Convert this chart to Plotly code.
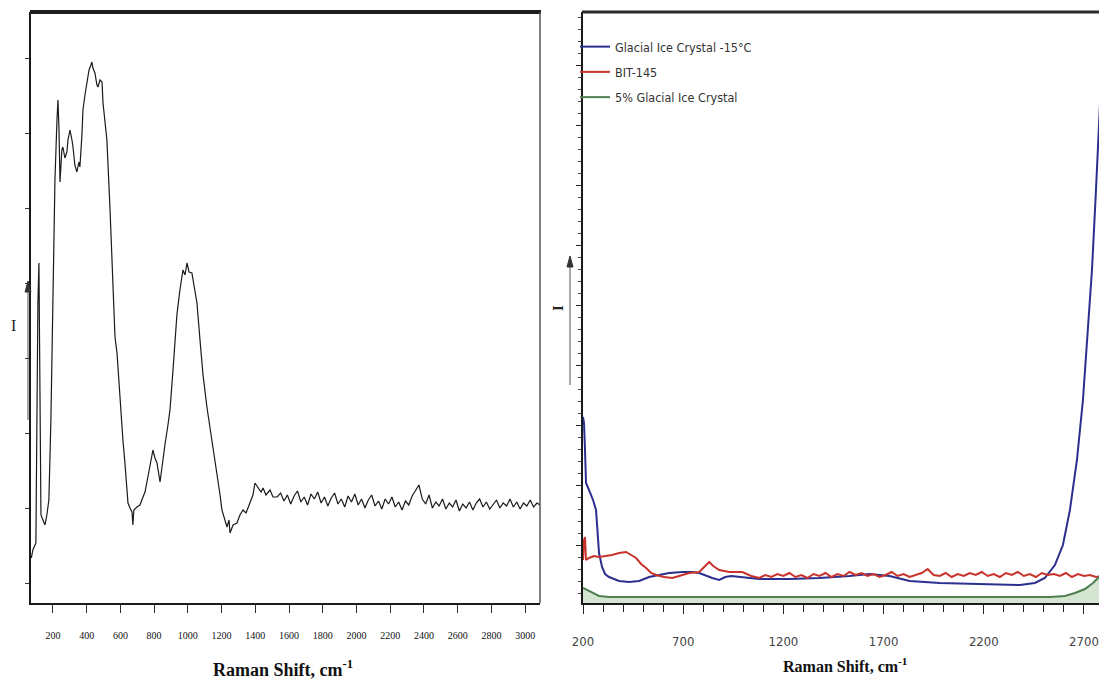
import plotly.graph_objects as go

# page body has an 8px margin, so the figure is sized to sit inside the 1107x698 window
W, H = 1099, 682
OFF = 8

# ---------------- Left panel: Raman spectrum (arbitrary intensity) ----------------
left_x = [72, 81, 99, 105, 111, 117, 123, 129, 141, 153, 164, 176, 188, 200, 212, 224, 230, 236, 242,
          253, 259, 271, 283, 289, 301, 313, 319, 330, 342, 354, 360, 372, 378, 390, 402, 414, 425,
          431, 437, 449, 461, 467, 479, 491, 497, 508, 520, 538, 556, 568, 580, 597, 615, 627, 645,
          657, 669, 674, 680, 698, 716, 734, 746, 763, 775, 793, 805, 817, 835, 847, 864, 882, 894,
          912, 935, 953, 971, 983, 995, 1007, 1024, 1036, 1054, 1072, 1090, 1113, 1143, 1173, 1191,
          1202, 1220, 1232, 1244, 1250, 1268, 1291, 1309, 1327, 1345, 1368, 1386, 1398, 1416, 1434,
          1446, 1463, 1487, 1505, 1529,
          1550, 1570, 1590, 1610, 1630, 1650, 1670, 1690, 1710, 1730, 1750, 1770, 1790, 1810, 1830,
          1850, 1870, 1890, 1910, 1930, 1950, 1970, 1990, 2010, 2030, 2050, 2070, 2090, 2110, 2130,
          2150, 2170, 2190, 2210, 2230, 2250, 2270, 2290, 2310, 2330, 2350, 2370, 2390, 2410, 2430,
          2450, 2470, 2490, 2510, 2530, 2550, 2570, 2590, 2610, 2630, 2650, 2670, 2690, 2710, 2730,
          2750, 2770, 2790, 2810, 2830, 2850, 2870, 2890, 2910, 2930, 2950, 2970, 2990, 3010, 3030,
          3050, 3070, 3088]
left_i = [45, 53, 60, 203, 300, 340, 183, 88, 83, 78, 88, 103, 183, 303, 423, 483, 503, 473, 421,
          453, 456, 445, 451, 463, 473, 463, 456, 438, 431, 441, 436, 468, 493, 508, 520, 533, 538,
          541, 535, 530, 518, 516, 523, 521, 500, 483, 463, 396, 313, 266, 250, 206, 163, 140, 100,
          95, 91, 78, 93, 96, 98, 106, 111, 126, 138, 153, 145, 140, 121, 138, 158, 178, 193,
          233, 288, 313, 333, 328, 340, 331, 330, 318, 300, 263, 228, 196, 163, 130, 108,
          93, 83, 76, 83, 70, 78, 80, 88, 93, 90, 100, 108, 120, 115, 111,
          115, 108, 113, 106, 106,
          110, 102, 108, 99, 107, 112, 101, 106, 98, 109, 104, 111, 100, 106, 97,
          105, 110, 99, 104, 96, 107, 101, 109, 98, 104, 95, 103, 108, 97, 102,
          94, 104, 99, 106, 96, 101, 93, 102, 98, 107, 112, 118, 104, 99, 108,
          95, 101, 97, 104, 94, 100, 96, 103, 92, 99, 95, 101, 93, 100, 104,
          96, 101, 94, 99, 103, 95, 100, 97, 104, 96, 101, 94, 100, 97, 103,
          96, 100, 98]

left_xticks = [200, 400, 600, 800, 1000, 1200, 1400, 1600, 1800, 2000, 2200, 2400, 2600, 2800, 3000]

# ---------------- Right panel: three spectra ----------------
blue_name = "Glacial Ice Crystal -15\u00b0C"
blue_x = [200, 205, 210, 215, 230, 250, 265, 275, 280, 295, 310, 330, 380, 430, 480, 530, 580, 630,
          695, 745, 780, 815, 845, 880, 910, 940, 980, 1080, 1230, 1380, 1530, 1630, 1730, 1830,
          1980, 2130, 2280, 2380, 2455, 2505, 2555, 2595, 2630, 2665, 2695, 2720, 2740, 2760, 2780,
          2795, 2805]
blue_i = [186, 180, 153, 120, 113, 103, 93, 68, 50, 36, 29, 26, 22, 21, 22, 26, 28, 30,
          31, 31, 30, 27, 25, 23, 26, 27, 26, 24, 24, 25, 27, 29, 27, 22,
          20, 19, 18, 18, 20, 25, 38, 58, 93, 143, 203, 273, 333, 413, 503,
          563, 585]

red_name = "BIT-145"
red_x = [200, 205, 210, 215, 230, 255, 280, 315, 345, 380, 415, 440, 465, 490, 515, 540, 565, 605,
         645, 680, 730, 780, 805, 830, 850, 880, 930, 995, 1040, 1080,
         1110, 1140, 1170, 1200, 1230, 1260, 1290, 1320, 1350, 1380, 1410, 1440, 1470, 1500, 1530,
         1560, 1590, 1620, 1650, 1680, 1710, 1740, 1770, 1800, 1830, 1860, 1890, 1920, 1950, 1980,
         2010, 2040, 2070, 2100, 2130, 2160, 2190, 2220, 2250, 2280, 2310, 2340, 2370, 2400, 2430,
         2460, 2490, 2520, 2550, 2580, 2610, 2640, 2670, 2700, 2730, 2760, 2790]
red_i = [43, 63, 66, 43, 45, 47, 46, 47, 48, 50, 51, 48, 45, 39, 35, 30, 28, 26,
         25, 27, 30, 31, 36, 41, 37, 33, 31, 31, 27, 25,
         28, 26, 29, 27, 30, 26, 28, 25, 29, 27, 30, 26, 29, 27, 31,
         28, 30, 27, 29, 26, 28, 31, 27, 29, 26, 28, 30, 34, 28, 27,
         30, 26, 29, 27, 30, 28, 31, 27, 29, 26, 30, 28, 31, 27, 29,
         26, 30, 28, 29, 27, 30, 26, 29, 27, 28, 26, 27]

green_name = "5% Glacial Ice Crystal"
green_x = [200, 220, 245, 280, 330, 780, 1780, 2530, 2605, 2655, 2705, 2745, 2780, 2815]
green_i = [15, 13, 10, 7, 6, 6, 6, 6, 7, 10, 14, 20, 27, 37]

right_xticks = [200, 700, 1200, 1700, 2200, 2700]

# ---------------- helpers: window pixel position -> paper coordinates ----------------
def px(x):
    return (x - OFF) / W

def py(y):
    return 1 - (y - OFF) / H

fig = go.Figure()

fig.add_trace(go.Scatter(x=left_x, y=left_i, mode="lines", line=dict(color="#1a1a1a", width=1.2),
                         showlegend=False, xaxis="x", yaxis="y"))

# green fill underneath (no legend entry)
fig.add_trace(go.Scatter(x=green_x, y=green_i, mode="lines", fill="tozeroy",
                         fillcolor="rgba(160,200,155,0.45)", line=dict(width=0, color="rgba(0,0,0,0)"),
                         showlegend=False, hoverinfo="skip", xaxis="x2", yaxis="y2"))
fig.add_trace(go.Scatter(x=blue_x, y=blue_i, mode="lines", name=blue_name, legendgroup="a",
                         line=dict(color="#2b2f8f", width=2), xaxis="x2", yaxis="y2"))
fig.add_trace(go.Scatter(x=red_x, y=red_i, mode="lines", name=red_name, legendgroup="b",
                         line=dict(color="#c8342b", width=2), xaxis="x2", yaxis="y2"))
fig.add_trace(go.Scatter(x=green_x, y=green_i, mode="lines", name=green_name, legendgroup="c",
                         line=dict(color="#4f7f50", width=2), xaxis="x2", yaxis="y2"))

ydom = [py(603), py(12)]
legend_font = "DejaVu Sans Condensed, Liberation Sans Narrow, DejaVu Sans"

fig.update_layout(
    width=W, height=H,
    margin=dict(l=0, r=0, t=0, b=0, autoexpand=False),
    paper_bgcolor="white", plot_bgcolor="white",
    xaxis=dict(domain=[px(31), px(540)], range=[70, 3088], anchor="y", automargin=False,
               showline=True, linecolor="#1a1a1a", linewidth=2,
               ticks="outside", ticklen=8, tickwidth=1, tickcolor="#333",
               tickvals=left_xticks, ticktext=[str(v) for v in left_xticks],
               tickfont=dict(family="Liberation Serif", size=10, color="#111"),
               ticklabelstandoff=14, showgrid=False, zeroline=False),
    yaxis=dict(domain=ydom, range=[0, 591], anchor="x", automargin=False,
               showline=True, linecolor="#1a1a1a", linewidth=2,
               ticks="outside", ticklen=4, tickcolor="#333", tick0=20, dtick=75,
               showticklabels=False, showgrid=False, zeroline=False),
    xaxis2=dict(domain=[px(583), 1.0], range=[200, 2815], anchor="y2", automargin=False,
                showline=True, linecolor="#1a1a1a", linewidth=2,
                ticks="outside", ticklen=9, tickwidth=1.3, tickcolor="#222",
                tickvals=right_xticks, ticktext=[str(v) for v in right_xticks],
                minor=dict(dtick=100, tick0=200, ticks="outside", ticklen=7, tickcolor="#222", tickwidth=1),
                tickfont=dict(family=legend_font, size=13, color="#444"),
                ticklabelstandoff=16, showgrid=False, zeroline=False),
    yaxis2=dict(domain=ydom, range=[0, 591], anchor="x2", automargin=False,
                showline=True, linecolor="#1a1a1a", linewidth=1.5,
                ticks="outside", ticklen=5, tickcolor="#222", tick0=58, dtick=60,
                minor=dict(dtick=12, tick0=58, ticks="outside", ticklen=3, tickcolor="#444"),
                showticklabels=False, showgrid=False, zeroline=False),
    legend=dict(x=px(575), y=py(32), xanchor="left", yanchor="top",
                bgcolor="rgba(0,0,0,0)", itemwidth=30, tracegroupgap=6,
                font=dict(family=legend_font, size=12.5, color="#333")),
    shapes=[
        dict(type="line", xref="paper", yref="paper", x0=px(30), x1=px(541), y0=py(12), y1=py(12),
             line=dict(color="#1f1f1f", width=4)),
        dict(type="line", xref="paper", yref="paper", x0=px(540), x1=px(540), y0=py(12), y1=py(603),
             line=dict(color="#555", width=1.5)),
        dict(type="line", xref="paper", yref="paper", x0=px(582), x1=1.0, y0=py(12), y1=py(12),
             line=dict(color="#2a2a2a", width=3)),
        # y-direction arrows (shafts and heads)
        dict(type="line", xref="paper", yref="paper", x0=px(28), x1=px(28), y0=py(420), y1=py(290),
             line=dict(color="#555", width=1)),
        dict(type="path", xref="paper", yref="paper",
             path=f"M {px(25)} {py(292)} L {px(31)} {py(292)} L {px(28)} {py(281)} Z",
             fillcolor="#333", line=dict(color="#333", width=1)),
        dict(type="line", xref="paper", yref="paper", x0=px(570), x1=px(570), y0=py(385), y1=py(265),
             line=dict(color="#555", width=1)),
        dict(type="path", xref="paper", yref="paper",
             path=f"M {px(567)} {py(267)} L {px(573)} {py(267)} L {px(570)} {py(256)} Z",
             fillcolor="#333", line=dict(color="#333", width=1)),
    ],
    annotations=[
        dict(xref="paper", yref="paper", x=px(283), y=py(668), showarrow=False,
             text="<b>Raman Shift, cm<sup>-1</sup></b>", xanchor="center", yanchor="middle",
             font=dict(family="Liberation Serif", size=18, color="#111")),
        dict(xref="paper", yref="paper", x=px(845), y=py(665), showarrow=False,
             text="<b>Raman Shift, cm<sup>-1</sup></b>", xanchor="center", yanchor="middle",
             font=dict(family="Liberation Serif", size=16, color="#111")),
        dict(xref="paper", yref="paper", x=px(13), y=py(325), showarrow=False, text="I",
             xanchor="center", yanchor="middle",
             font=dict(family="Liberation Serif", size=16, color="#222")),
        dict(xref="paper", yref="paper", x=px(558), y=py(308), showarrow=False, text="<b>I</b>",
             textangle=-90, xanchor="center", yanchor="middle",
             font=dict(family="Liberation Serif", size=15, color="#222")),
    ],
)

fig.write_html("out.html")
